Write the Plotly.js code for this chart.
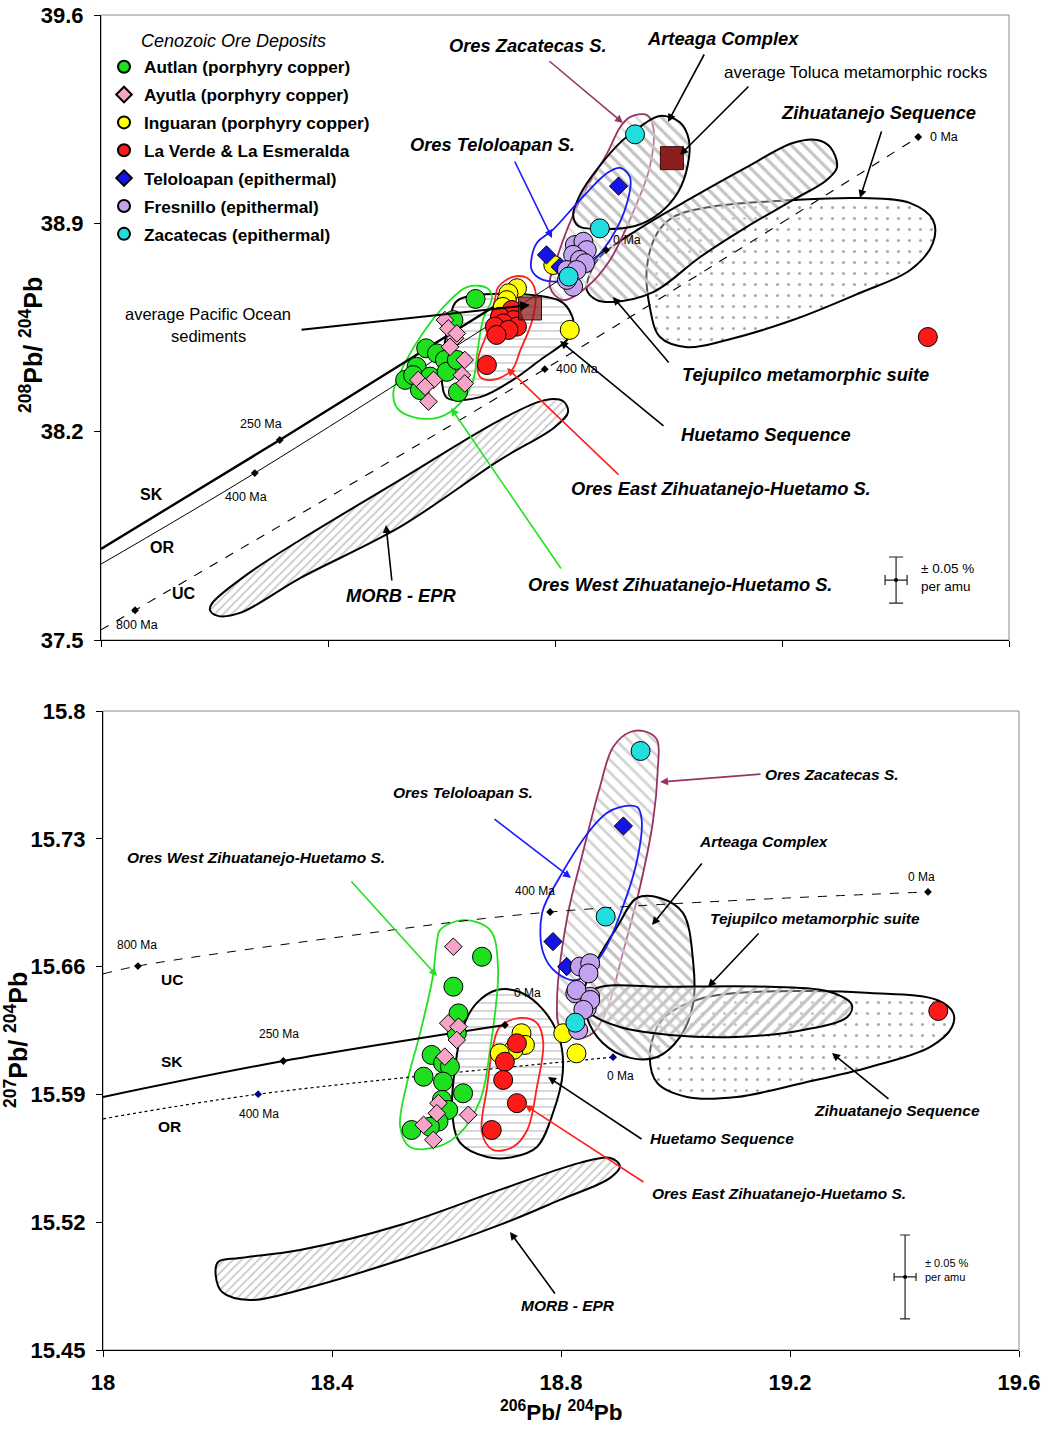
<!DOCTYPE html>
<html><head><meta charset="utf-8">
<script src="https://cdn.plot.ly/plotly-3.0.1.min.js"></script>
<style>html,body{margin:0;padding:0;background:#fff}#chart{width:1046px;height:1429px}</style>
</head><body><div id="chart"></div>
<script>
const W=1046,H=1429;
const FONT='Arial, "Liberation Sans", sans-serif';

// ---------- legend / series names ----------
const seriesNames=['Autlan (porphyry copper)','Ayutla (porphyry copper)','Inguaran (porphyry copper)','La Verde & La Esmeralda','Teloloapan (epithermal)','Fresnillo (epithermal)','Zacatecas (epithermal)'];

// ---------- TOP panel: 208Pb/204Pb vs 206Pb/204Pb ----------
const autlanTopX=[18.660,18.573,18.592,18.606,18.556,18.536,18.550,18.568,18.580,18.609,18.621,18.627,18.562,18.629];
const autlanTopY=[38.646,38.480,38.463,38.441,38.418,38.374,38.390,38.362,38.385,38.401,38.575,38.441,38.340,38.333];
const ayutlaTopX=[18.606,18.612,18.624,18.615,18.641,18.636,18.641,18.586,18.559,18.577,18.571,18.627];
const ayutlaTopY=[38.575,38.547,38.514,38.485,38.441,38.390,38.362,38.374,38.374,38.301,38.351,38.530];
const inguaranTopX=[18.733,18.718,18.715,18.708,18.826,18.797];
const inguaranTopY=[38.682,38.665,38.642,38.619,38.542,38.760];
const laverdeTopX=[18.724,18.703,18.727,18.709,18.694,18.733,18.718,18.697,18.680,19.457];
const laverdeTopY=[38.609,38.586,38.575,38.564,38.553,38.553,38.542,38.525,38.424,38.518];
const teloTopX=[18.912,18.785,18.809];
const teloTopY=[39.025,38.794,38.754];
const fresTopX=[18.835,18.850,18.856,18.832,18.844,18.853,18.821,18.838,18.832,18.821];
const fresTopY=[38.827,38.838,38.810,38.794,38.777,38.766,38.743,38.743,38.687,38.710];
const zacTopX=[18.941,18.879,18.824];
const zacTopY=[39.199,38.883,38.721];
const avgTopNames=['average Toluca metamorphic rocks','average Pacific Ocean sediments'];
const avgTopX=[19.006,18.756];
const avgTopY=[39.119,38.614];

// model lead evolution curves (top)
const skTopX=[18.0,18.315,18.700]; const skTopY=[37.806,38.172,38.629];
const orTopX=[18.0,18.271,18.890]; const orTopY=[37.755,38.061,38.810];
const ucTopX=[18.0,18.060,18.782,19.440]; const ucTopY=[37.534,37.600,38.410,39.190];
const agesTopX=[18.060,18.782,19.440,18.315,18.271,18.890];
const agesTopY=[37.600,38.410,39.190,38.172,38.061,38.810];

// fields (top)
const zihTopX=[18.962,18.980,19.008,19.073,19.219,19.337,19.426,19.466,19.466,19.426,19.337,19.219,19.103,19.033,18.985,18.967];
const zihTopY=[38.753,38.867,38.921,38.955,38.978,38.985,38.968,38.911,38.834,38.743,38.666,38.575,38.508,38.484,38.518,38.619];
const tejTopX=[18.862,18.856,18.874,18.902,18.973,19.056,19.138,19.219,19.279,19.297,19.285,19.262,19.219,19.138,19.043,18.945,18.879];
const tejTopY=[38.733,38.676,38.642,38.636,38.669,38.787,38.888,38.978,39.046,39.089,39.156,39.180,39.170,39.089,38.988,38.878,38.787];
const artTopX=[18.985,19.020,19.036,19.034,19.017,18.985,18.941,18.879,18.841,18.832,18.844,18.876,18.918,18.959];
const artTopY=[39.261,39.240,39.180,39.096,39.005,38.935,38.891,38.881,38.891,38.928,38.995,39.086,39.177,39.237];
const zacFTopX=[18.932,18.962,18.973,18.967,18.937,18.897,18.856,18.814,18.791,18.804,18.844,18.892,18.915];
const zacFTopY=[39.257,39.264,39.224,39.089,38.935,38.777,38.686,38.642,38.686,38.787,38.978,39.136,39.224];
const hueTopX=[18.629,18.809,18.830,18.832,18.821,18.774,18.726,18.668,18.610,18.601,18.603,18.615];
const hueTopY=[38.642,38.639,38.589,38.552,38.508,38.441,38.374,38.316,38.313,38.363,38.464,38.575];
const eastTopX=[18.700,18.726,18.751,18.765,18.760,18.739,18.724,18.691,18.668,18.664,18.680,18.694];
const eastTopY=[38.686,38.720,38.716,38.676,38.575,38.474,38.407,38.374,38.384,38.441,38.531,38.642];
const westTopX=[18.515,18.527,18.567,18.610,18.645,18.680,18.689,18.673,18.663,18.656,18.633,18.597,18.550,18.522];
const westTopY=[38.330,38.397,38.531,38.632,38.686,38.683,38.652,38.575,38.464,38.374,38.296,38.249,38.249,38.279];
const telFTopX=[18.759,18.768,18.796,18.844,18.892,18.915,18.932,18.927,18.897,18.856,18.821,18.779,18.759];
const telFTopY=[38.787,38.834,38.878,38.978,39.069,39.086,39.056,38.968,38.844,38.753,38.710,38.710,38.743];
const morbTopX=[18.196,18.263,18.351,18.527,18.703,18.782,18.814,18.823,18.800,18.703,18.527,18.351,18.245,18.206,18.192];
const morbTopY=[37.624,37.728,37.836,38.038,38.239,38.306,38.303,38.266,38.216,38.105,37.880,37.708,37.591,37.581,37.601];
const errTopX=[19.401], errTopY=[37.7015], errTopDX=[0.0194], errTopDY=[0.0773];

// ---------- BOTTOM panel: 207Pb/204Pb vs 206Pb/204Pb ----------
const autlanBotX=[18.662,18.612,18.621,18.574,18.594,18.606,18.560,18.594,18.629,18.592,18.603,18.586,18.539,18.571,18.618];
const autlanBotY=[15.6654,15.6490,15.6344,15.6116,15.6071,15.6052,15.5997,15.5970,15.5906,15.5870,15.5815,15.5751,15.5705,15.5723,15.6235];
const ayutlaBotX=[18.612,18.603,18.621,18.618,18.597,18.586,18.583,18.638,18.560,18.577];
const ayutlaBotY=[15.6709,15.6290,15.6271,15.6198,15.6107,15.5852,15.5797,15.5788,15.5733,15.5651];
const inguaranBotX=[18.731,18.737,18.717,18.693,18.804,18.827];
const inguaranBotY=[15.6235,15.6171,15.6144,15.6125,15.6235,15.6125];
const laverdeBotX=[18.723,18.702,18.699,18.723,18.679,19.459];
const laverdeBotY=[15.6180,15.6079,15.5979,15.5852,15.5705,15.6357];
const teloBotX=[18.909,18.786,18.810];
const teloBotY=[15.7370,15.6737,15.6600];
const fresBotX=[18.833,18.851,18.848,18.825,18.851,18.845,18.830,18.827,18.851,18.839];
const fresBotY=[15.6600,15.6618,15.6563,15.6454,15.6435,15.6372,15.6253,15.6472,15.6417,15.6363];
const zacBotX=[18.939,18.878,18.825];
const zacBotY=[15.7781,15.6874,15.6293];

const skBotX=[18.0,18.315,18.702]; const skBotY=[15.5886,15.6083,15.6280];
const orBotX=[18.0,18.271,18.891]; const orBotY=[15.5766,15.5901,15.6104];
const ucBotX=[18.0,18.061,18.420,18.781,19.441]; const ucBotY=[15.6560,15.6603,15.6765,15.6899,15.7009];
const agesBotBlackX=[18.061,18.781,19.441,18.315,18.702];
const agesBotBlackY=[15.6603,15.6899,15.7009,15.6083,15.6280];
const agesBotNavyX=[18.271,18.891];
const agesBotNavyY=[15.5901,15.6104];

const zacFBotX=[18.891,18.921,18.950,18.968,18.969,18.961,18.938,18.908,18.880,18.856,18.828,18.798,18.793,18.810,18.838,18.868];
const zacFBotY=[15.7803,15.7885,15.7885,15.7841,15.7677,15.7403,15.7036,15.6675,15.6363,15.6237,15.6209,15.6269,15.6401,15.6855,15.7222,15.7584];
const telFBotX=[18.903,18.933,18.941,18.933,18.908,18.873,18.828,18.793,18.769,18.767,18.798,18.851,18.880];
const telFBotY=[15.7474,15.7474,15.7403,15.7184,15.6927,15.6675,15.6527,15.6565,15.6675,15.6894,15.7091,15.7348,15.7441];
const artBotX=[18.933,18.973,19.013,19.031,19.031,19.008,18.968,18.921,18.873,18.845,18.842,18.863,18.898];
const artBotY=[15.6976,15.6976,15.6894,15.6620,15.6401,15.6215,15.6105,15.6100,15.6182,15.6324,15.6489,15.6636,15.6817];
const tejBotX=[18.863,18.990,19.165,19.270,19.308,19.300,19.223,19.107,18.990,18.903,18.851,18.842];
const tejBotY=[15.6483,15.6489,15.6489,15.6461,15.6390,15.6324,15.6253,15.6215,15.6226,15.6269,15.6346,15.6417];
const zihBotX=[18.990,19.048,19.135,19.340,19.457,19.485,19.483,19.445,19.340,19.223,19.107,19.020,18.968,18.955,18.968];
const zihBotY=[15.6346,15.6428,15.6461,15.6456,15.6417,15.6346,15.6269,15.6160,15.6050,15.5963,15.5886,15.5886,15.5963,15.6105,15.6269];
const hueBotX=[18.653,18.688,18.728,18.769,18.798,18.803,18.786,18.758,18.716,18.671,18.624,18.610,18.615,18.629];
const hueBotY=[15.6401,15.6472,15.6461,15.6363,15.6198,15.6017,15.5798,15.5612,15.5557,15.5557,15.5634,15.5798,15.6050,15.6269];
const eastBotX=[18.693,18.728,18.758,18.769,18.758,18.741,18.716,18.681,18.662,18.671,18.681];
const eastBotY=[15.6269,15.6319,15.6291,15.6182,15.5941,15.5705,15.5612,15.5596,15.5689,15.5941,15.6160];
const westBotX=[18.589,18.629,18.676,18.690,18.676,18.659,18.624,18.583,18.536,18.519,18.531,18.554,18.576,18.583];
const westBotY=[15.6801,15.6855,15.6801,15.6598,15.6143,15.5870,15.5689,15.5612,15.5612,15.5722,15.5963,15.6237,15.6543,15.6729];
const morbBotX=[18.201,18.239,18.344,18.519,18.693,18.833,18.886,18.903,18.886,18.798,18.693,18.519,18.344,18.257,18.208,18.197];
const morbBotY=[15.4982,15.5004,15.5048,15.5185,15.5377,15.5525,15.5552,15.5508,15.5443,15.5322,15.5185,15.4993,15.4829,15.4774,15.4818,15.4906];
const errBotX=[19.401], errBotY=[15.490], errBotDX=[0.0192], errBotDY=[0.023];

// ---------- styles ----------
const styles=[
 {color:'#1ee01e',symbol:'circle',size:19},
 {color:'#f5a3c7',symbol:'diamond',size:13.5},
 {color:'#ffff00',symbol:'circle',size:19},
 {color:'#ff1a1a',symbol:'circle',size:19},
 {color:'#1414e6',symbol:'diamond',size:14},
 {color:'#c3a3ef',symbol:'circle',size:19},
 {color:'#22dede',symbol:'circle',size:19}
];

function closeArr(a){return a.concat([a[0]]);}
function field(xs,ys,col,pat,xa,ya,w){
  const t={type:'scatter',mode:'lines',x:closeArr(xs),y:closeArr(ys),xaxis:xa,yaxis:ya,
    line:{color:col,width:w||2,shape:'spline',smoothing:1},showlegend:false,hoverinfo:'skip'};
  if(pat){t.fill='toself';t.fillcolor='rgba(255,255,255,0)';
    t.fillpattern=Object.assign({bgcolor:'rgba(255,255,255,0.35)',fgcolor:'#c4c4c4'},pat);}
  else t.fill='none';
  return t;
}
function curve(xs,ys,dash,w,xa,ya){
  return {type:'scatter',mode:'lines',x:xs,y:ys,xaxis:xa,yaxis:ya,line:{color:'#000',width:w,dash:dash,shape:'spline'},showlegend:false,hoverinfo:'skip'};
}
function pts(xs,ys,i,xa,ya,leg){
  const s=styles[i];
  return {type:'scatter',mode:'markers',x:xs,y:ys,xaxis:xa,yaxis:ya,name:'<b>'+seriesNames[i]+'</b>',
    legendgroup:'g'+i,showlegend:leg,
    marker:{color:s.color,symbol:s.symbol,size:s.size,line:{color:'#000',width:1}}};
}

const stripeA={shape:'\\',size:9,solidity:0.35};
const stripeB={shape:'/',size:9,solidity:0.35};
const dotsP={shape:'.',size:11,solidity:0.06,fgcolor:'#a8a8a8'};
const dashP={shape:'-',size:8,solidity:0.18,fgcolor:'#c8c8c8'};
const fineP={shape:'/',size:6,solidity:0.3,fgcolor:'#c8c8c8'};

const traces=[];
// top fields
traces.push(field(zihTopX,zihTopY,'#000',dotsP,'x','y'));
traces.push(field(tejTopX,tejTopY,'#000',stripeA,'x','y'));
traces.push(field(zacFTopX,zacFTopY,'#993366',{shape:'\\',size:9,solidity:0.25,fgcolor:'#dadada'},'x','y',1.8));
traces.push(field(artTopX,artTopY,'#000',stripeA,'x','y'));
traces.push(field(hueTopX,hueTopY,'#000',dashP,'x','y'));
traces.push(field(morbTopX,morbTopY,'#000',fineP,'x','y'));
traces.push(field(eastTopX,eastTopY,'#ff2020',null,'x','y',1.8));
traces.push(field(westTopX,westTopY,'#22e022',null,'x','y',1.8));
traces.push(field(telFTopX,telFTopY,'#1a1aff',null,'x','y',1.8));
// top curves
traces.push(curve(skTopX,skTopY,'solid',2.4,'x','y'));
traces.push(curve(orTopX,orTopY,'solid',1,'x','y'));
traces.push(curve(ucTopX,ucTopY,'dash',1.1,'x','y'));
traces.push({type:'scatter',mode:'markers',x:agesTopX,y:agesTopY,xaxis:'x',yaxis:'y',marker:{symbol:'diamond',size:6,color:'#000'},showlegend:false,hoverinfo:'skip'});
// top points
traces.push(pts(autlanTopX,autlanTopY,0,'x','y',true));
traces.push(pts(ayutlaTopX,ayutlaTopY,1,'x','y',true));
traces.push(pts(inguaranTopX,inguaranTopY,2,'x','y',true));
traces.push(pts(laverdeTopX,laverdeTopY,3,'x','y',true));
traces.push(pts(teloTopX,teloTopY,4,'x','y',true));
traces.push(pts(fresTopX,fresTopY,5,'x','y',true));
traces.push(pts(zacTopX,zacTopY,6,'x','y',true));
traces.push({type:'scatter',mode:'markers',x:avgTopX,y:avgTopY,text:avgTopNames,xaxis:'x',yaxis:'y',showlegend:false,
  marker:{symbol:'square',size:23,color:['#8b1e1e','rgba(139,30,30,0.75)'],line:{color:'#3a0a0a',width:1}}});
traces.push({type:'scatter',mode:'markers',x:errTopX,y:errTopY,xaxis:'x',yaxis:'y',showlegend:false,
  marker:{size:4,color:'#000'},
  error_x:{type:'data',array:errTopDX,visible:true,color:'#222',thickness:1.2,width:5},
  error_y:{type:'data',array:errTopDY,visible:true,color:'#222',thickness:1.2,width:7}});

// bottom fields
traces.push(field(zihBotX,zihBotY,'#000',dotsP,'x2','y2'));
traces.push(field(zacFBotX,zacFBotY,'#993366',{shape:'\\',size:9,solidity:0.3,fgcolor:'#d2d2d2'},'x2','y2',1.8));
traces.push(field(artBotX,artBotY,'#000',stripeA,'x2','y2'));
traces.push(field(tejBotX,tejBotY,'#000',stripeB,'x2','y2'));
traces.push(field(hueBotX,hueBotY,'#000',dashP,'x2','y2'));
traces.push(field(morbBotX,morbBotY,'#000',fineP,'x2','y2'));
traces.push(field(eastBotX,eastBotY,'#ff2020',null,'x2','y2',1.8));
traces.push(field(westBotX,westBotY,'#22e022',null,'x2','y2',1.8));
traces.push(field(telFBotX,telFBotY,'#1a1aff',null,'x2','y2',1.8));
// bottom curves
traces.push(curve(skBotX,skBotY,'solid',2,'x2','y2'));
traces.push(curve(orBotX,orBotY,'dot',1.2,'x2','y2'));
traces.push(curve(ucBotX,ucBotY,'dash',1,'x2','y2'));
traces.push({type:'scatter',mode:'markers',x:agesBotBlackX,y:agesBotBlackY,xaxis:'x2',yaxis:'y2',marker:{symbol:'diamond',size:6,color:'#000'},showlegend:false,hoverinfo:'skip'});
traces.push({type:'scatter',mode:'markers',x:agesBotNavyX,y:agesBotNavyY,xaxis:'x2',yaxis:'y2',marker:{symbol:'diamond',size:6,color:'#000080'},showlegend:false,hoverinfo:'skip'});
// bottom points
traces.push(pts(autlanBotX,autlanBotY,0,'x2','y2',false));
traces.push(pts(ayutlaBotX,ayutlaBotY,1,'x2','y2',false));
traces.push(pts(inguaranBotX,inguaranBotY,2,'x2','y2',false));
traces.push(pts(laverdeBotX,laverdeBotY,3,'x2','y2',false));
traces.push(pts(teloBotX,teloBotY,4,'x2','y2',false));
traces.push(pts(fresBotX,fresBotY,5,'x2','y2',false));
traces.push(pts(zacBotX,zacBotY,6,'x2','y2',false));
traces.push({type:'scatter',mode:'markers',x:errBotX,y:errBotY,xaxis:'x2',yaxis:'y2',showlegend:false,
  marker:{size:4,color:'#000'},
  error_x:{type:'data',array:errBotDX,visible:true,color:'#222',thickness:1.2,width:4},
  error_y:{type:'data',array:errBotDY,visible:true,color:'#222',thickness:1.2,width:5}});

// ---------- annotations ----------
const ann=[];
function T(text,px,py,size,opt){
  opt=opt||{};
  ann.push({xref:'paper',yref:'paper',x:px/W,y:1-py/H,text:text,showarrow:false,
    xanchor:opt.xa||'center',yanchor:'middle',textangle:opt.angle||0,
    font:{family:FONT,size:size,color:'#000'}});
}
function A(tx,ty,sx,sy,col,w){
  ann.push({xref:'paper',yref:'paper',x:tx/W,y:1-ty/H,ax:sx-tx,ay:sy-ty,axref:'pixel',ayref:'pixel',
    text:'',showarrow:true,arrowhead:2,arrowsize:1,arrowwidth:w||1.6,arrowcolor:col||'#000',standoff:0,startstandoff:0});
}
const bi=s=>'<b><i>'+s+'</i></b>';
// top panel texts
T('<i>Cenozoic Ore Deposits</i>',139,41,18,{xa:'left'});
T(bi('Ores Zacatecas S.'),528,45,18.3); A(623,123,548,60,'#993366');
T(bi('Arteaga Complex'),723,39,18.3); A(668,122,705,53);
T('average Toluca metamorphic rocks',855,72,17); A(680,155,750,85);
T(bi('Zihuatanejo Sequence'),878,112,18.3); A(860,198,882,130);
T(bi('Ores Teloloapan S.'),492,145,18.3); A(552,238,514,160,'#1a1aff');
T('average Pacific Ocean',208,314,16.5); T('sediments',208,336,16.5); A(530,305,300,330,'#000',2);
T(bi('Tejupilco metamorphic suite'),805,375,18.3); A(613,297,670,364);
T(bi('Huetamo Sequence'),766,435,18.3); A(560,341,665,427);
T(bi('Ores East Zihuatanejo-Huetamo S.'),721,489,18.3); A(507,368,620,476,'#ff2020');
T(bi('Ores West Zihuatanejo-Huetamo S.'),680,584,18.3); A(451,408,562,570,'#22e022');
T(bi('MORB - EPR'),401,595,18.3); A(386,525,392,582);
T('± 0.05 %',919,569,13.5,{xa:'left'}); T('per amu',919,587,13.5,{xa:'left'});
T('0 Ma',928,137,12.5,{xa:'left'}); T('0 Ma',611,240,12.5,{xa:'left'}); T('400 Ma',554,369,12.5,{xa:'left'});
T('250 Ma',261,424,12.5); T('400 Ma',246,497,12.5); T('800 Ma',137,625,12.5);
T('<b>SK</b>',151,495,16); T('<b>OR</b>',162,547,16); T('<b>UC</b>',184,593,16);
// bottom panel texts
T(bi('Ores Zacatecas S.'),832,774,15.5); A(660,782,762,774,'#993366');
T(bi('Ores Teloloapan S.'),463,793,15.5); A(571,878,493,818,'#1a1aff');
T(bi('Arteaga Complex'),764,841,15.5); A(652,925,703,862);
T(bi('Ores West Zihuatanejo-Huetamo S.'),256,857,15.5); A(437,976,350,880,'#22e022');
T(bi('Tejupilco metamorphic suite'),815,918,15.5); A(708,987,760,932);
T(bi('Zihuatanejo Sequence'),897,1110,15.5); A(832,1053,890,1100);
T(bi('Huetamo Sequence'),722,1138,15.5); A(548,1077,643,1140);
T(bi('Ores East Zihuatanejo-Huetamo S.'),779,1193,15.5); A(525,1105,645,1183,'#ff2020');
T(bi('MORB - EPR'),568,1305,15.5); A(510,1232,556,1295);
T('± 0.05 %',923,1263,11,{xa:'left'}); T('per amu',923,1277,11,{xa:'left'});
T('800 Ma',137,945,12); T('250 Ma',279,1034,12); T('400 Ma',259,1114,12); T('400 Ma',535,891,12);
T('0 Ma',527,993,12); T('0 Ma',620,1076,12); T('0 Ma',921,877,12);
T('<b>UC</b>',172,979,15.5); T('<b>SK</b>',172,1061,15.5); T('<b>OR</b>',169,1126,15.5);
// axis titles
T('<b><sup>208</sup>Pb/ <sup>204</sup>Pb</b>',31,345,25,{angle:-90});
T('<b><sup>207</sup>Pb/ <sup>204</sup>Pb</b>',16,1040,25,{angle:-90});
T('<b><sup>206</sup>Pb/ <sup>204</sup>Pb</b>',561,1411,22.5);

// ---------- axes ----------
const tickFont={family:FONT,size:22,color:'#000',weight:'bold'};
const xTickVals=[18,18.4,18.8,19.2,19.6], xTickText=['18','18.4','18.8','19.2','19.6'];
const yTopVals=[37.5,38.2,38.9,39.6], yTopText=['37.5','38.2','38.9','39.6'];
const yBotVals=[15.45,15.52,15.59,15.66,15.73,15.8], yBotText=['15.45','15.52','15.59','15.66','15.73','15.8'];
const axBase={showgrid:false,zeroline:false,showline:true,linecolor:'#000',linewidth:1,ticks:'outside',ticklen:6,tickcolor:'#000',tickfont:tickFont,fixedrange:true};

const layout={
  width:W,height:H,margin:{l:0,r:0,t:0,b:0},paper_bgcolor:'#fff',plot_bgcolor:'#fff',
  font:{family:FONT,color:'#000'},
  showlegend:true,
  legend:{x:104/W,y:1-49/H,xanchor:'left',yanchor:'top',bgcolor:'rgba(255,255,255,0)',borderwidth:0,
    font:{family:FONT,size:17.2,color:'#000'},itemsizing:'constant',tracegroupgap:2.5,itemclick:false},
  xaxis:Object.assign({},axBase,{domain:[101/W,1009/W],range:[18,19.6],anchor:'y',tickvals:xTickVals,ticktext:xTickText,showticklabels:false}),
  yaxis:Object.assign({},axBase,{domain:[1-640/H,1-15/H],range:[37.5,39.6],anchor:'x',tickvals:yTopVals,ticktext:yTopText,ticklabelstandoff:6}),
  xaxis2:Object.assign({},axBase,{domain:[103/W,1019/W],range:[18,19.6],anchor:'y2',tickvals:xTickVals,ticktext:xTickText,ticklabelstandoff:7}),
  yaxis2:Object.assign({},axBase,{domain:[1-1350/H,1-711/H],range:[15.45,15.8],anchor:'x2',tickvals:yBotVals,ticktext:yBotText,ticklabelstandoff:6}),
  shapes:[
    {type:'rect',xref:'x domain',yref:'y domain',x0:0,x1:1,y0:0,y1:1,line:{color:'#8c8c8c',width:1},layer:'below'},
    {type:'rect',xref:'x2 domain',yref:'y2 domain',x0:0,x1:1,y0:0,y1:1,line:{color:'#8c8c8c',width:1},layer:'below'}
  ],
  annotations:ann
};
Plotly.newPlot('chart',traces,layout,{staticPlot:true,displayModeBar:false});
</script></body></html>
